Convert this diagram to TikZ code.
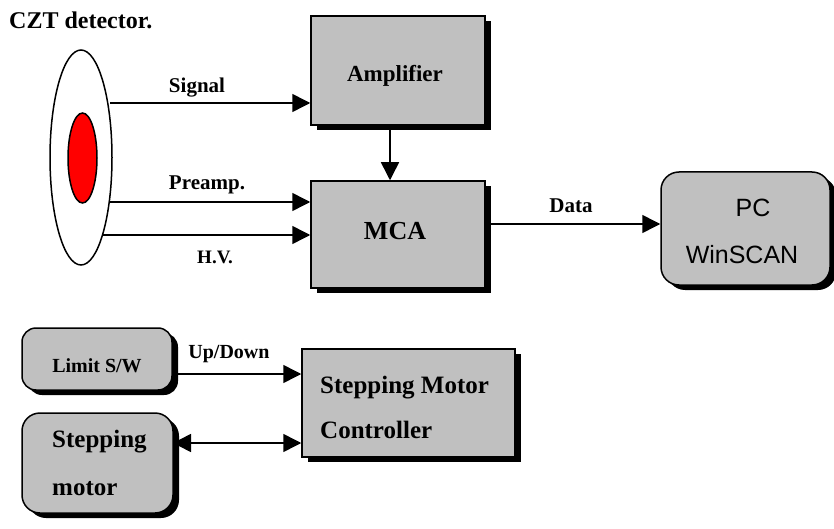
\documentclass[tikz,border=0pt]{standalone}
\usepackage{fontspec}
\setmainfont{Liberation Serif}
\newfontfamily\arialfont{Liberation Sans}
\usetikzlibrary{arrows.meta,shadows,calc,shapes.geometric}
\definecolor{boxgray}{RGB}{192,192,192}
\definecolor{redfill}{RGB}{255,0,0}
\tikzset{
  box/.style={draw=black, line width=1.5pt, fill=boxgray, inner sep=0pt,
    drop shadow={shadow xshift=6pt, shadow yshift=-5pt, fill=black, opacity=1}},
  rbox/.style={box, rounded corners=18pt},
  conn/.style={line width=1.5pt, -{Triangle[length=18pt,width=18pt]}},
  dconn/.style={line width=1.5pt, {Triangle[length=18pt,width=18pt]}-{Triangle[length=18pt,width=18pt]}},
  lab/.style={font=\bfseries\fontsize{21}{24}\selectfont, inner sep=0pt, anchor=base},
  big/.style={font=\bfseries\fontsize{25}{30}\selectfont, inner sep=0pt, anchor=base west},
}
\begin{document}
\begin{tikzpicture}[x=1pt,y=-1pt]
\useasboundingbox (0,0) rectangle (834,529);

% detector
\node[draw=black, line width=1.5pt, fill=white, ellipse, minimum width=62pt, minimum height=215pt, inner sep=0pt] (det) at (81,157.5) {};
\node[draw=black, line width=1.5pt, fill=redfill, ellipse, minimum width=29pt, minimum height=90pt, inner sep=0pt] (red) at (82.5,158) {};
\node[font=\bfseries\fontsize{24}{28}\selectfont, inner sep=0pt, anchor=base west] (czt) at (9,29) {CZT detector.};

% boxes
\node[box, minimum width=174pt, minimum height=109pt] (amp) at (398,70.5) {};
\node[box, minimum width=174pt, minimum height=107pt] (mca) at (398,234.5) {};
\node[rbox, minimum width=169pt, minimum height=113pt] (pc) at (745.5,228.5) {};
\node[rbox, rounded corners=14pt, minimum width=150pt, minimum height=62pt] (lim) at (97,359) {};
\node[box, minimum width=213pt, minimum height=108pt] (smc) at (408.5,403) {};
\node[rbox, minimum width=151pt, minimum height=100pt] (stm) at (97.5,463) {};

% box texts
\node[font=\bfseries\fontsize{23}{27}\selectfont, inner sep=0pt, anchor=base] (tamp) at (395,82) {Amplifier};
\node[font=\bfseries\fontsize{26}{30}\selectfont, inner sep=0pt, anchor=base] (tmca) at (395,240) {MCA};
\node[font=\arialfont\fontsize{25}{30}\selectfont, inner sep=0pt, anchor=base] (tpc) at (753,217) {PC};
\node[font=\arialfont\fontsize{25}{30}\selectfont, inner sep=0pt, anchor=base] (twin) at (742,263) {WinSCAN};
\node[font=\bfseries\fontsize{20}{24}\selectfont, inner sep=0pt, anchor=base] (tlim) at (97,372) {Limit S/W};
\node[big] (tsm1) at (320,393) {Stepping Motor};
\node[big] (tsm2) at (320,438) {Controller};
\node[big] (tst1) at (52,447) {Stepping};
\node[big] (tst2) at (52,495) {motor};

% connector end points
\coordinate (dsig) at (110,103);
\coordinate (dpre) at (109,202);
\coordinate (dhv) at (103,235);
\coordinate (ampout) at (390,125);
\coordinate (mcaout) at (485,224);
\coordinate (limout) at (172,374);
\coordinate (stmout) at (173,443);

% connectors
\draw[conn] (dsig) -- (dsig -| amp.west);
\draw[conn] (dpre) -- (dpre -| mca.west);
\draw[conn] (dhv) -- (dhv -| mca.west);
\draw[conn] (ampout) -- (ampout |- mca.north);
\draw[conn] (mcaout) -- (mcaout -| pc.west);
\draw[conn] (limout) -- (limout -| smc.west);
\draw[dconn] (stmout) -- (stmout -| smc.west);

% connector labels
\node[lab] (lsig) at (197,93) {Signal};
\node[lab] (lpre) at (207,190) {Preamp.};
\node[lab, font=\bfseries\fontsize{19}{22}\selectfont] (lhv) at (215,263) {H.V.};
\node[lab] (ldata) at (571,213) {Data};
\node[lab, font=\bfseries\fontsize{20}{24}\selectfont] (lud) at (229,358) {Up/Down};
\end{tikzpicture}
\end{document}
